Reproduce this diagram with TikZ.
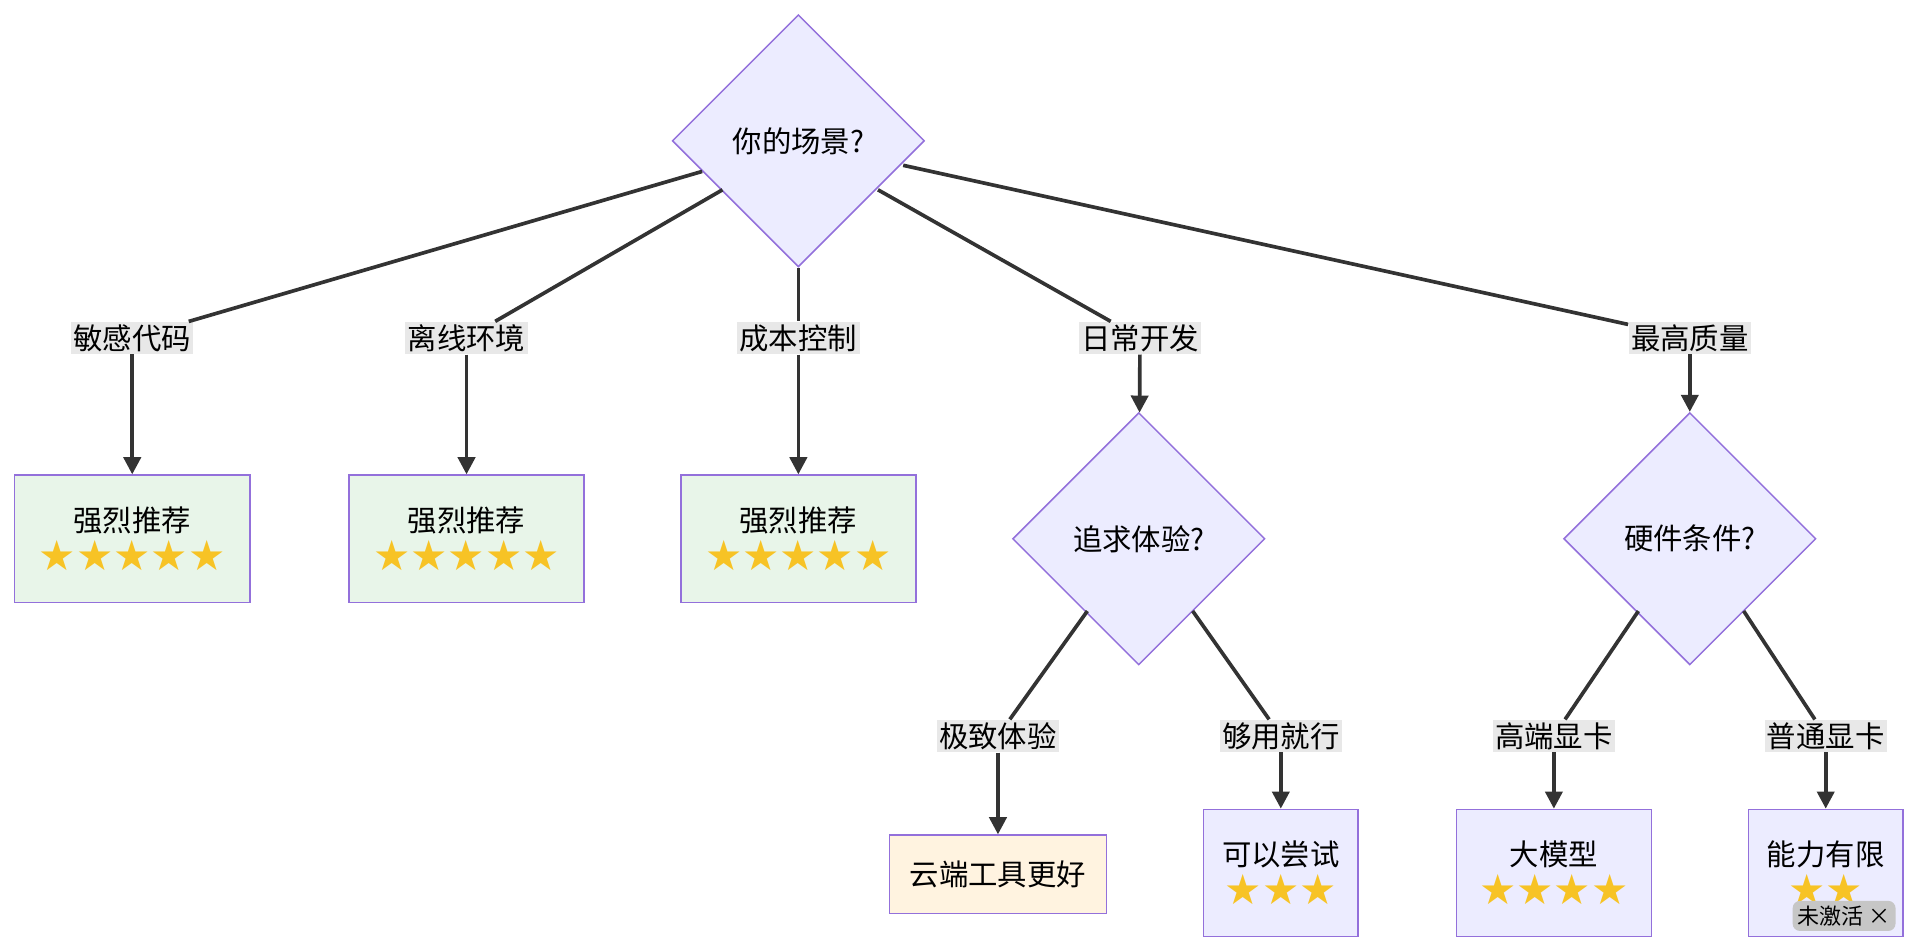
\documentclass[tikz,border=0pt]{standalone}
\usepackage{fontspec}
\setmainfont{Noto Sans CJK SC}
\newfontfamily\starfont{DejaVu Sans}
\usetikzlibrary{arrows.meta,shapes.geometric}
\definecolor{lineC}{HTML}{333333}
\definecolor{borderC}{HTML}{9370DB}
\definecolor{qFill}{HTML}{ECECFF}
\definecolor{goodFill}{HTML}{E8F5E9}
\definecolor{cloudFill}{HTML}{FFF3E0}
\definecolor{lblFill}{HTML}{E8E8E8}
\definecolor{starC}{HTML}{F7C325}
\newcommand{\starsrow}[1]{{\starfont\fontsize{17pt}{17pt}\selectfont\color{starC}\foreach \i in {1,...,#1}{★}}}
\tikzset{
    question/.style={diamond, draw=borderC, fill=qFill, line width=0.6pt,
        minimum width=103pt, minimum height=103pt, inner sep=0pt, font=\fontsize{12pt}{14pt}\selectfont},
    result/.style={draw=borderC, line width=0.6pt, align=center,
        minimum height=#1, inner sep=0pt, font=\fontsize{12pt}{14pt}\selectfont},
    tag/.style={fill=lblFill, inner sep=1pt, font=\fontsize{12pt}{14pt}\selectfont},
    link/.style={draw=lineC, line width=1.5pt},
    flow/.style={link, -{Triangle[length=7pt,width=7pt]}}
}
\begin{document}
\begin{tikzpicture}[x=0.5pt,y=-0.5pt]
    \useasboundingbox (0,0) rectangle (1568,777);
    % questions
    \node[question](Q0) at (652,115) {你的场景?};
    \node[question](Q1) at (930,440) {追求体验?};
    \node[question](Q2) at (1380,440) {硬件条件?};
    % edge labels
    \node[tag](L1) at (108,276)  {敏感代码};
    \node[tag](L2) at (381,276)  {离线环境};
    \node[tag](L3) at (652,276)  {成本控制};
    \node[tag](L4) at (931,276)  {日常开发};
    \node[tag](L5) at (1380,276) {最高质量};
    \node[tag](L6) at (815,601)  {极致体验};
    \node[tag](L7) at (1046,601) {够用就行};
    \node[tag](L8) at (1269,601) {高端显卡};
    \node[tag](L9) at (1491,601) {普通显卡};
    % results
    \node[result=52pt, fill=goodFill, minimum width=96pt](R1) at (108,440) {强烈推荐\\[2pt]\starsrow{5}};
    \node[result=52pt, fill=goodFill, minimum width=96pt](R2) at (381,440) {强烈推荐\\[2pt]\starsrow{5}};
    \node[result=52pt, fill=goodFill, minimum width=96pt](R3) at (652,440) {强烈推荐\\[2pt]\starsrow{5}};
    \node[result=32pt, fill=cloudFill, minimum width=88.5pt](R4) at (815,714) {云端工具更好};
    \node[result=52pt, fill=qFill, minimum width=63pt](R5) at (1046,713) {可以尝试\\[2pt]\starsrow{3}};
    \node[result=52pt, fill=qFill, minimum width=79.5pt](R6) at (1269,713) {大模型\\[2pt]\starsrow{4}};
    \node[result=52pt, fill=qFill, minimum width=63pt](R7) at (1491,713) {能力有限\\[2pt]\starsrow{2}};
    \path
        (Q0.west) ++(25,25) coordinate (s1)
        (Q0) ++(-62,40) coordinate (s2)
        (Q0.south) coordinate (s3)
        (Q0) ++(65,40) coordinate (s4)
        (Q0.east) ++(-18,20) coordinate (s5);
    \draw[link] (s1) -- (L1);
    \draw[link] (s2) -- (L2);
    \draw[link] (s3) -- (L3);
    \draw[link] (s4) -- (L4);
    \draw[link] (s5) -- (L5);
    \draw[link] (Q1) ++(-42,59) -- (L6);
    \draw[link] (Q1) ++(44,59) -- (L7);
    \draw[link] (Q2) ++(-42,59) -- (L8);
    \draw[link] (Q2) ++(44,59) -- (L9);
    \draw[flow] (L1) -- (R1);
    \draw[flow] (L2) -- (R2);
    \draw[flow] (L3) -- (R3);
    \draw[flow] (L4) -- (Q1);
    \draw[flow] (L5) -- (Q2);
    \draw[flow] (L6) -- (R4);
    \draw[flow] (L7) -- (R5);
    \draw[flow] (L8) -- (R6);
    \draw[flow] (L9) -- (R7);
    % badge
    \node[fill=gray!45, rounded corners=3pt, inner sep=2pt, font=\fontsize{9pt}{10pt}\selectfont](B) at (1506,748) {未激活 ×};
\end{tikzpicture}
\end{document}
